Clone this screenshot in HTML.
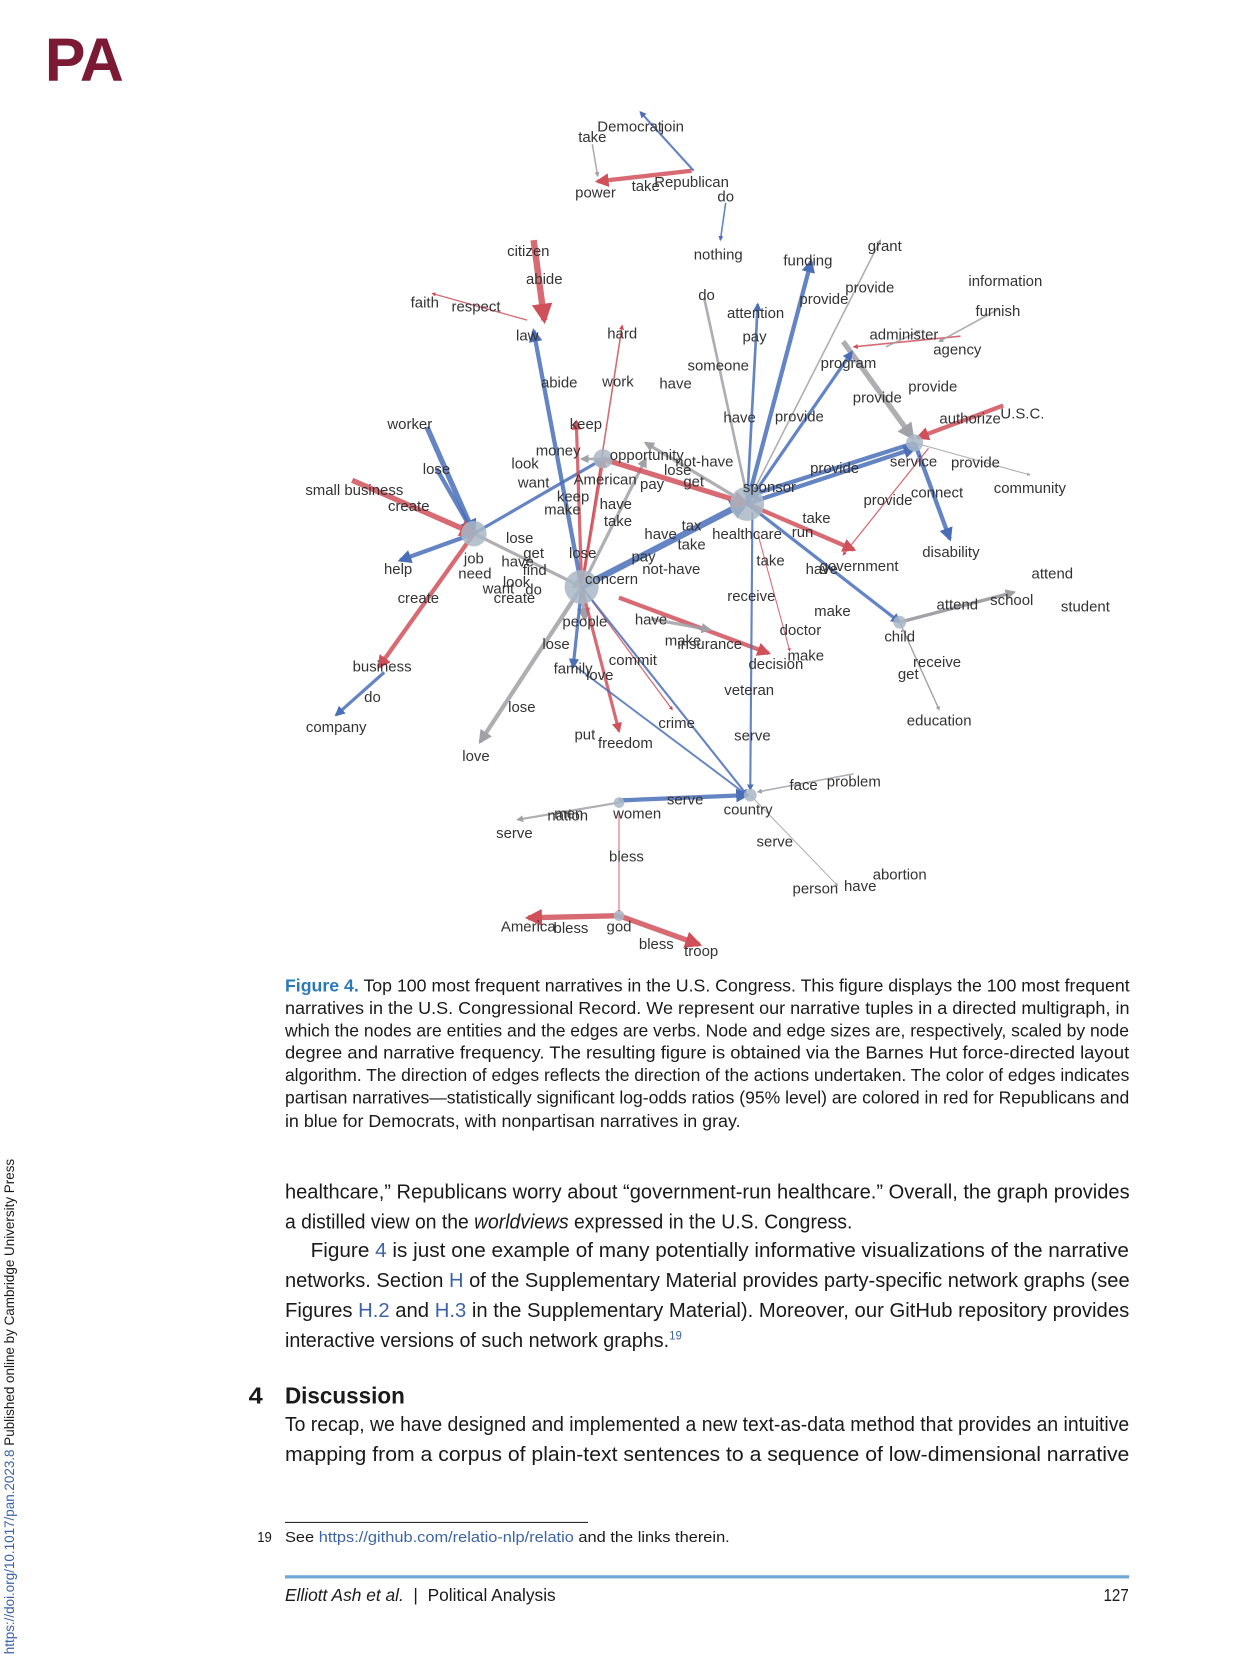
<!DOCTYPE html>
<html><head><meta charset="utf-8">
<style>
html,body{margin:0;padding:0;background:#fff;}
body{width:1238px;height:1650px;overflow:hidden;position:relative;}
#page{position:absolute;left:0;top:0;width:1160px;height:1546px;transform:scale(1.06724);transform-origin:0 0;font-family:"Liberation Sans",sans-serif;color:#1a1a1a;}
.ln{position:absolute;white-space:nowrap;transform-origin:0 0;}
.lnk{color:#3c63a8;}
#graph text{font-family:"Liberation Sans",sans-serif;font-size:14px;fill:#333;}
</style></head>
<body>
<div id="page">
<div style="position:absolute;left:42px;top:24px;font-size:57px;font-weight:bold;color:#7a1a35;letter-spacing:-1px;">PA</div>

<svg id="graph" width="1160" height="910" style="position:absolute;left:0;top:0;">
<defs>
<marker id="ar" viewBox="0 0 10 10" refX="8" refY="5" markerWidth="3.2" markerHeight="3.2" orient="auto"><path d="M0,0L10,5L0,10z" fill="#d0505a"/></marker>
<marker id="ab" viewBox="0 0 10 10" refX="8" refY="5" markerWidth="3.2" markerHeight="3.2" orient="auto"><path d="M0,0L10,5L0,10z" fill="#4a6fb8"/></marker>
<marker id="ag" viewBox="0 0 10 10" refX="8" refY="5" markerWidth="3.2" markerHeight="3.2" orient="auto"><path d="M0,0L10,5L0,10z" fill="#a0a0a6"/></marker>
</defs>
<g id="edges"></g><g id="hubs"></g><g id="labels"></g>
</svg>

<div id="text"></div>
<div style="position:absolute;left:267px;top:1426px;width:284px;height:1px;background:#222;"></div>
<div style="position:absolute;left:267px;top:1476px;width:791px;height:3px;background:#6fa8d6;"></div>
<div style="position:absolute;left:2px;top:1550px;transform:rotate(-90deg);transform-origin:0 0;font-size:12.6px;white-space:nowrap;"><span style="color:#3c63a8">https://doi.org/10.1017/pan.2023.8</span> Published online by Cambridge University Press</div>
</div>

<script>
// graph data
const hubNames=['JOB','CON','OPP','HC','SVC','CHI','CTY','MW','GOD'];
const hubX=[444,545,565,700,857,843,703,580,580];
const hubY=[500,550,430,472,415,583,745,752,858];
const hubR=[12,16,9,16,8,6,6,5,5];
const labelText=['Democrat','join','take','Republican','take','power','do','nothing','citizen','abide','faith','respect','law','hard','do','attention','pay','funding','grant','provide','provide','information','furnish','administer','agency','program','someone','abide','work','have','provide','provide','authorize','U.S.C.','have','provide','worker','keep','money','opportunity','not-have','lose','look','lose','service','provide','provide','community','small business','want','American','pay','get','sponsor','keep','make','have','take','connect','provide','create','tax','healthcare','run','take','have','lose','take','get','lose','pay','disability','job','have','help','need','find','take','have','government','not-have','concern','attend','look','want','create','create','do','receive','make','attend','school','student','people','have','doctor','child','make','insurance','lose','commit','family','love','make','decision','receive','get','business','do','veteran','lose','company','crime','education','put','freedom','serve','love','face','problem','serve','men','women','country','serve','nation','serve','bless','abortion','have','person','America','bless','god','bless','troop'];
const labelX=[590,630,555,648,605,558,680,673,495,510,398,446,494,583,662,708,707,757,829,815,772,942,935,847,897,795,673,524,579,633,874,822,909,958,693,749,384,549,523,606,660,409,492,635,856,914,782,965,332,500,567,611,650,721,537,527,577,579,878,832,383,648,700,752,765,619,487,648,500,546,603,891,444,485,373,445,501,722,770,805,629,573,986,484,467,392,482,500,704,780,897,948,1017,548,610,750,843,640,665,521,593,537,562,755,727,878,851,358,349,702,489,315,634,880,548,586,705,446,753,800,642,533,597,701,726,532,482,587,843,806,764,495,535,580,615,657];
const labelY=[118,118,128,170,174,180,184,238,235,261,283,287,314,312,276,293,315,244,230,269,280,263,291,313,327,340,342,358,357,359,362,372,392,387,391,390,397,397,422,426,432,439,434,440,432,433,438,457,459,452,449,453,451,456,465,477,472,488,461,468,474,492,500,498,485,500,504,510,518,518,521,517,523,526,533,537,534,525,533,530,533,542,537,545,551,560,560,552,558,572,566,562,568,582,580,590,596,600,603,603,618,626,632,614,622,620,631,624,653,646,662,681,677,675,688,696,689,708,735,732,749,762,762,758,788,764,780,802,819,830,832,868,869,868,884,891];
// edges: x1,y1 -> x2,y2, color r/b/g, width
const edgeX1=[648,555,650,680,660,500,494,545,545,700,700,700,700,790,900,935,940,857,857,857,870,400,409,330,444,444,360,444,444,545,545,545,545,565,565,700,700,843,843,843,545,580,610,545,545,545,545,545,540,705,710,800,580,580,580,580,580,703,843,700,700,830];
const edgeY1=[160,135,160,190,280,225,300,550,550,472,472,472,472,320,315,290,380,415,415,415,420,400,439,450,500,500,630,500,500,550,550,550,550,430,430,472,472,583,583,583,550,560,580,550,550,550,550,550,625,480,500,725,750,752,760,858,858,745,583,472,472,325];
const edgeX2=[560,560,600,675,700,510,405,500,583,605,710,760,825,855,800,880,860,700,890,965,790,444,444,444,375,355,315,545,565,565,540,700,605,700,545,800,843,950,880,880,548,720,665,537,450,580,630,700,700,703,740,710,700,485,580,495,655,785,950,857,798,862];
const edgeY2=[170,165,105,225,465,300,275,310,305,415,285,245,225,410,325,320,410,465,505,445,520,500,500,500,525,625,670,550,430,430,395,470,430,472,430,515,583,555,665,665,580,612,590,625,695,685,665,745,745,740,610,742,745,768,855,860,885,830,555,420,330,310];
const edgeC=['r','g','b','b','g','r','r','b','r','g','b','b','g','g','r','g','r','b','b','g','r','b','b','r','b','r','b','g','b','r','r','b','g','r','g','r','b','g','g','g','g','r','g','b','g','r','r','b','b','b','r','g','b','g','r','r','r','g','g','b','b','g'];
const edgeW=[4,1.5,2,1.5,2.5,6,1.2,4,1.5,3,2.5,4,1.5,5,1.5,1.5,4,4,4,1,1.2,5,4,5,4,4,3,3,3,3,3,6,3,5,2.5,4,3,3,1.2,1.2,4,4,3,3,4,3,1.2,2,1.8,2,1,1.5,4,2,1,5,5,1,3,4,3,1.5];

const NS='http://www.w3.org/2000/svg';
const col={r:'#d0505a',b:'#4a6fb8',g:'#a0a0a6'};
const eg=document.getElementById('edges');
for(let i=0;i<edgeX1.length;i++){
  const l=document.createElementNS(NS,'line');
  l.setAttribute('x1',edgeX1[i]);l.setAttribute('y1',edgeY1[i]);
  l.setAttribute('x2',edgeX2[i]);l.setAttribute('y2',edgeY2[i]);
  l.setAttribute('stroke',col[edgeC[i]]);l.setAttribute('stroke-width',edgeW[i]);
  l.setAttribute('stroke-opacity','0.85');
  l.setAttribute('marker-end','url(#a'+edgeC[i]+')');
  
  
  eg.appendChild(l);
}
const hg=document.getElementById('hubs');
for(let i=0;i<hubX.length;i++){
  const c=document.createElementNS(NS,'circle');
  c.setAttribute('cx',hubX[i]);c.setAttribute('cy',hubY[i]);c.setAttribute('r',hubR[i]);
  c.setAttribute('fill','#a9b9c7');c.setAttribute('fill-opacity','0.85');
  
  
  hg.appendChild(c);
}
const lg=document.getElementById('labels');
for(let i=0;i<labelText.length;i++){
  const t=document.createElementNS(NS,'text');
  t.setAttribute('x',labelX[i]);t.setAttribute('y',labelY[i]+5);
  t.setAttribute('text-anchor','middle');
  t.textContent=labelText[i];
  
  
  lg.appendChild(t);
}

const lines=[
['<span style="color:#2a7ab8;font-weight:bold">Figure 4.</span> Top 100 most frequent narratives in the U.S. Congress. This figure displays the 100 most frequent',267,916,791,'cap',1],
['narratives in the U.S. Congressional Record. We represent our narrative tuples in a directed multigraph, in',267,937,791,'cap',1],
['which the nodes are entities and the edges are verbs. Node and edge sizes are, respectively, scaled by node',267,958,791,'cap',1],
['degree and narrative frequency. The resulting figure is obtained via the Barnes Hut force-directed layout',267,979,791,'cap',1],
['algorithm. The direction of edges reflects the direction of the actions undertaken. The color of edges indicates',267,1000,791,'cap',1],
['partisan narratives—statistically significant log-odds ratios (95% level) are colored in red for Republicans and',267,1021,791,'cap',1],
['in blue for Democrats, with nonpartisan narratives in gray.',267,1043,427,'cap',0],
['healthcare,” Republicans worry about “government-run healthcare.” Overall, the graph provides',267,1107,791,'body',1],
['a distilled view on the <i>worldviews</i> expressed in the U.S. Congress.',267,1135,532,'body',0],
['Figure <span class="lnk">4</span> is just one example of many potentially informative visualizations of the narrative',291,1162,767,'body',1],
['networks. Section <span class="lnk">H</span> of the Supplementary Material provides party-specific network graphs (see',267,1190,791,'body',1],
['Figures <span class="lnk">H.2</span> and <span class="lnk">H.3</span> in the Supplementary Material). Moreover, our GitHub repository provides',267,1218,791,'body',1],
['interactive versions of such network graphs.<sup class="lnk" style="font-size:11px">19</sup>',267,1246,372,'body',0],
['<b>4</b>',233,1295,13,'body',0],
['<b>Discussion</b>',267,1295,112,'body',0],
['To recap, we have designed and implemented a new text-as-data method that provides an intuitive',267,1325,791,'body',1],
['mapping from a corpus of plain-text sentences to a sequence of low-dimensional narrative',267,1353,791,'body',1],
['19',241,1432,14,'fn',0],
['See <span class="lnk">https://github.com/relatio-nlp/relatio</span> and the links therein.',267,1432,417,'fn',0],
['<i>Elliott Ash et al.</i> &nbsp;|&nbsp; Political Analysis',267,1486,254,'ft',0],
['127',1034,1486,24,'ft',0]
];
const sizes={cap:16,body:19,fn:14,ft:16.5};
const tc=document.getElementById('text');
lines.forEach(function(L,i){
  const d=document.createElement('div');
  d.className='ln';
  d.innerHTML=L[0];
  d.style.left=L[1]+'px';d.style.top=L[2]+'px';
  d.style.fontSize=(L[0].indexOf('Discussion')>=0||L[0]=='<b>4</b>'?22:sizes[L[4]])+'px';
  
  
  tc.appendChild(d);
  const w=d.scrollWidth;
  if(w>0){d.style.transform='scaleX('+(L[3]/w)+')';}
});
</script>
</body></html>
